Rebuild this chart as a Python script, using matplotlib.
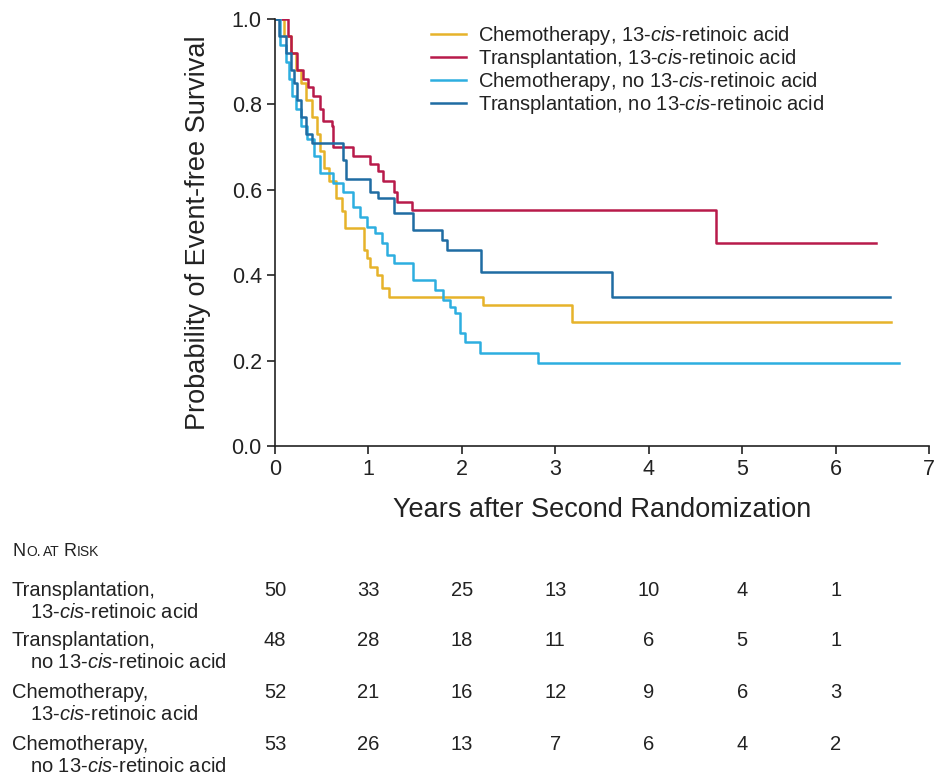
import matplotlib.pyplot as plt
import matplotlib.transforms as mtransforms

plt.rcParams['font.family'] = ['Liberation Sans', 'DejaVu Sans']
plt.rcParams['mathtext.fontset'] = 'custom'
plt.rcParams['mathtext.it'] = 'Liberation Sans:italic'
plt.rcParams['mathtext.rm'] = 'Liberation Sans'

# --- Kaplan-Meier steps (years, survival after step) ---
chemo_cra_t = [0, 0.10, 0.17, 0.22, 0.28, 0.33, 0.40, 0.45, 0.48, 0.52, 0.58, 0.65, 0.72,
               0.75, 0.95, 0.98, 1.02, 1.09, 1.15, 1.22, 2.23, 3.18, 6.59]
chemo_cra_s = [1.0, 0.96, 0.92, 0.88, 0.85, 0.81, 0.77, 0.73, 0.69, 0.65, 0.62, 0.58, 0.55,
               0.51, 0.46, 0.44, 0.42, 0.40, 0.37, 0.35, 0.33, 0.29, 0.29]

trans_cra_t = [0, 0.14, 0.17, 0.24, 0.30, 0.35, 0.41, 0.48, 0.51, 0.61, 0.62, 0.84, 1.02,
               1.10, 1.16, 1.27, 1.31, 1.47, 4.72, 6.43]
trans_cra_s = [1.0, 0.96, 0.92, 0.88, 0.86, 0.84, 0.82, 0.79, 0.76, 0.75, 0.70, 0.68, 0.66,
               0.645, 0.62, 0.595, 0.571, 0.553, 0.475, 0.475]

chemo_no_t = [0, 0.05, 0.12, 0.15, 0.18, 0.22, 0.28, 0.34, 0.42, 0.48, 0.62, 0.73, 0.84,
              0.91, 0.98, 1.07, 1.15, 1.20, 1.27, 1.48, 1.71, 1.80, 1.875, 1.93, 1.98,
              2.03, 2.19, 2.81, 6.68]
chemo_no_s = [1.0, 0.94, 0.90, 0.86, 0.82, 0.79, 0.75, 0.72, 0.68, 0.64, 0.615, 0.595, 0.56,
              0.536, 0.513, 0.50, 0.475, 0.447, 0.428, 0.389, 0.365, 0.342, 0.326, 0.311,
              0.265, 0.244, 0.218, 0.194, 0.194]

trans_no_t = [0, 0.04, 0.12, 0.17, 0.20, 0.24, 0.28, 0.33, 0.40, 0.73, 0.76, 1.02, 1.10,
              1.27, 1.48, 1.79, 1.84, 2.20, 3.61, 6.58]
trans_no_s = [1.0, 0.96, 0.92, 0.88, 0.85, 0.81, 0.77, 0.73, 0.71, 0.67, 0.625, 0.595, 0.58,
              0.546, 0.506, 0.482, 0.459, 0.407, 0.349, 0.349]

legend_labels = ['Chemotherapy, 13-$\\it{cis}$-retinoic acid',
                 'Transplantation, 13-$\\it{cis}$-retinoic acid',
                 'Chemotherapy, no 13-$\\it{cis}$-retinoic acid',
                 'Transplantation, no 13-$\\it{cis}$-retinoic acid']
colors = ['#E6B32A', '#B81A4A', '#2DAEE0', '#1F6CA3']

# number at risk table
risk_years = [0, 1, 2, 3, 4, 5, 6]
risk_names = [('Transplantation,', '13-$\\it{cis}$-retinoic acid'),
              ('Transplantation,', 'no 13-$\\it{cis}$-retinoic acid'),
              ('Chemotherapy,', '13-$\\it{cis}$-retinoic acid'),
              ('Chemotherapy,', 'no 13-$\\it{cis}$-retinoic acid')]
risk_trans_cra = [50, 33, 25, 13, 10, 4, 1]
risk_trans_no = [48, 28, 18, 11, 6, 5, 1]
risk_chemo_cra = [52, 21, 16, 12, 9, 6, 3]
risk_chemo_no = [53, 26, 13, 7, 6, 4, 2]

W, H = 935, 779
fig = plt.figure(figsize=(W / 100, H / 100), dpi=100)
ax = fig.add_axes([275 / W, 1 - 446 / H, (929 - 275) / W, (446 - 19) / H])

curves = [(chemo_cra_t, chemo_cra_s), (trans_cra_t, trans_cra_s),
          (chemo_no_t, chemo_no_s), (trans_no_t, trans_no_s)]
for (t, s), c, lab in zip(curves, colors, legend_labels):
    ax.step(t, s, where='post', color=c, lw=1.8, label=lab)

ax.set_xlim(0, 7)
ax.set_ylim(0, 1.0)
ax.set_xticks(range(0, 8))
ax.set_yticks([0, 0.2, 0.4, 0.6, 0.8, 1.0])
ax.set_yticklabels(['0.0', '0.2', '0.4', '0.6', '0.8', '1.0'])
ax.tick_params(labelsize=15.5, length=6, width=1.2, direction='out', color='#222222',
               labelcolor='#222222')
for sp in ['top', 'right']:
    ax.spines[sp].set_visible(False)
for sp in ['left', 'bottom']:
    ax.spines[sp].set_linewidth(1.2)
    ax.spines[sp].set_color('#222222')
ax.set_xlabel('Years after Second Randomization', fontsize=19.5, labelpad=12, color='#222222')
ax.set_ylabel('Probability of Event-free Survival', fontsize=19.5, labelpad=15, color='#222222')

ax.legend(loc='upper left', bbox_to_anchor=(431 / W, 1 - 24 / H),
          bbox_transform=fig.transFigure, frameon=False, fontsize=14.5,
          handlelength=1.75, handletextpad=0.6, labelspacing=0.0,
          borderpad=0, borderaxespad=0, labelcolor='#222222')

# --- number at risk ---
def fy(py):
    return 1 - py / H

# small-caps header, pieces laid end to end
renderer = fig.canvas.get_renderer()
x_px = 13
for piece, size in [('N', 13), ('O.', 10), (' ', 6), ('AT', 10), (' ', 10), ('R', 13), ('ISK', 10)]:
    t = fig.text(x_px / W, fy(556), piece, fontsize=size, va='baseline', color='#222222')
    x_px += t.get_window_extent(renderer).width

trans = mtransforms.blended_transform_factory(ax.transData, fig.transFigure)
rows = [risk_trans_cra, risk_trans_no, risk_chemo_cra, risk_chemo_no]
row_py = [591, 641, 693, 745]
for (l1, l2), vals, py in zip(risk_names, rows, row_py):
    fig.text(12 / W, fy(py), l1, fontsize=14.5, va='center', color='#222222')
    fig.text(30 / W, fy(py + 21), l2, fontsize=14.5, va='center', color='#222222')
    for x, v in zip(risk_years, vals):
        ax.text(x, fy(py), str(v), transform=trans, fontsize=14.5, ha='center', va='center',
                clip_on=False, color='#222222')

fig.savefig('out.png', dpi=100)
